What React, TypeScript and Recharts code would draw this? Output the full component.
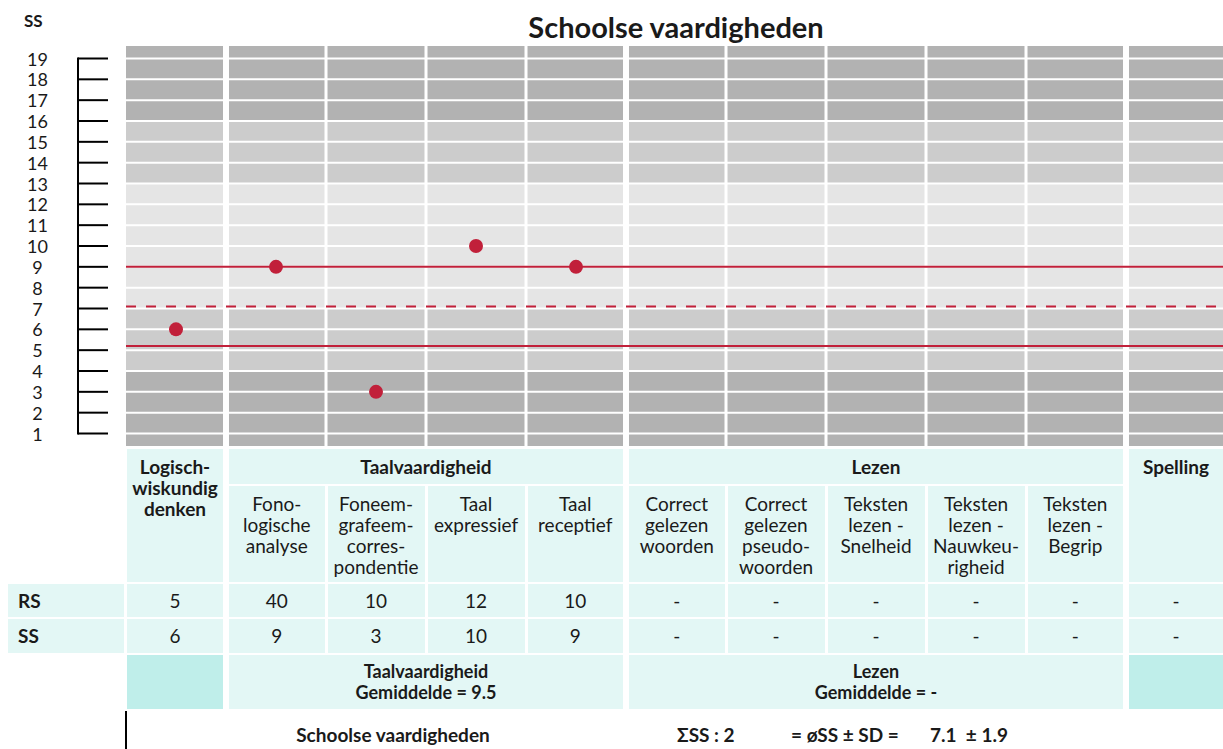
import { ComposedChart, Scatter, XAxis, YAxis, CartesianGrid, ReferenceLine } from 'recharts';

// ---- data ----
const TESTS = [
  'Logisch-wiskundig denken',
  'Fonologische analyse',
  'Foneem-grafeem-correspondentie',
  'Taal expressief',
  'Taal receptief',
  'Correct gelezen woorden',
  'Correct gelezen pseudowoorden',
  'Teksten lezen - Snelheid',
  'Teksten lezen - Nauwkeurigheid',
  'Teksten lezen - Begrip',
  'Spelling',
];

const SUB_LABELS: string[][] = [
  [],
  ['Fono-', 'logische', 'analyse'],
  ['Foneem-', 'grafeem-', 'corres-', 'pondentie'],
  ['Taal', 'expressief'],
  ['Taal', 'receptief'],
  ['Correct', 'gelezen', 'woorden'],
  ['Correct', 'gelezen', 'pseudo-', 'woorden'],
  ['Teksten', 'lezen -', 'Snelheid'],
  ['Teksten', 'lezen -', 'Nauwkeu-', 'righeid'],
  ['Teksten', 'lezen -', 'Begrip'],
  [],
];

const RS_SCORES: (number | null)[] = [5, 40, 10, 12, 10, null, null, null, null, null, null];
const SS_SCORES: (number | null)[] = [6, 9, 3, 10, 9, null, null, null, null, null, null];

const GROUPS = [
  { title: ['Logisch-', 'wiskundig', 'denken'], first: 0, last: 0, mean: null as string | null },
  { title: ['Taalvaardigheid'], first: 1, last: 4, mean: '9.5' },
  { title: ['Lezen'], first: 5, last: 9, mean: '-' },
  { title: ['Spelling'], first: 10, last: 10, mean: null as string | null },
];

const SS_TICKS = [1, 2, 3, 4, 5, 6, 7, 8, 9, 10, 11, 12, 13, 14, 15, 16, 17, 18, 19];
const SS_DOMAIN: [number, number] = [0.4, 19.6];

// norm zones on the SS scale
const NORM_ZONES = [
  { from: 0, to: 4, level: 2 },
  { from: 4, to: 7, level: 1 },
  { from: 7, to: 13, level: 0 },
  { from: 13, to: 16, level: 1 },
  { from: 16, to: 20, level: 2 },
];

const MEAN_SS = 7.1;
const SD_SS = 1.9;
const SS_COUNT = 2;

// ---- styles ----
const FONT = 'Lato, "Open Sans", sans-serif';
const TEXT = '#1a1a1a';
const RED = '#c1203a';
const ZONE_COLORS = ['#e5e5e5', '#cccccc', '#b2b2b2'];
const LIGHT_TEAL = '#e3f7f5';
const DARK_TEAL = '#bfeeea';

const PLOT_LEFT = 126;
const COL_W = 100;
const CHART_TOP = 46;
const PLOT_H = 400;
const UNIT_PX = PLOT_H / (SS_DOMAIN[1] - SS_DOMAIN[0]);

const chartData = TESTS.map((name, i) => ({ name, ss: SS_SCORES[i] }));

// one fill per stripe between grid lines, top to bottom
const stripeEdges = [SS_DOMAIN[1], ...[...SS_TICKS].reverse(), SS_DOMAIN[0]];
const STRIPE_FILLS = stripeEdges.slice(1).map((lo, i) => {
  const mid = (lo + stripeEdges[i]) / 2;
  const zone = NORM_ZONES.find((z) => mid >= z.from && mid < z.to);
  return ZONE_COLORS[zone ? zone.level : 0];
});

const isGroupStart = (i: number) => GROUPS.some((g) => g.first === i);
const isGroupEnd = (i: number) => GROUPS.some((g) => g.last === i);

function columnGaps({ offset }: any) {
  if (!offset) return [];
  const w = offset.width / TESTS.length;
  const pts: number[] = [];
  for (let i = 1; i < TESTS.length; i++) {
    const b = offset.left + i * w;
    if (isGroupStart(i)) pts.push(b - 1.5, b + 1.5);
    else pts.push(b);
  }
  return pts;
}

function SsTick({ y, payload }: any) {
  const v = payload.value;
  return (
    <g>
      <text x={37.5} y={y} textAnchor="middle" dominantBaseline="central" fontSize={18} fill={TEXT} fontFamily={FONT}>
        {v}
      </text>
      <line x1={78} x2={108} y1={y} y2={y} stroke="#000" strokeWidth={2} />
      {v > SS_TICKS[0] && <line x1={78} x2={78} y1={y - 1} y2={y + UNIT_PX + 1} stroke="#000" strokeWidth={2} />}
    </g>
  );
}

function ScoreDot({ cx, cy, payload }: any) {
  if (payload == null || payload.ss == null) return <g />;
  return <circle cx={cx} cy={cy} r={7} fill={RED} />;
}

function span(first: number, last: number) {
  const left = PLOT_LEFT + first * COL_W + (first === 0 ? 1 : isGroupStart(first) ? 3 : 1.5);
  const right = PLOT_LEFT + (last + 1) * COL_W - (isGroupEnd(last) ? 3 : 1.5);
  return { left, width: right - left };
}

interface BoxProps {
  left: number;
  width: number;
  top: number;
  bottom: number;
  bg?: string;
  bold?: boolean;
  top_aligned?: boolean;
  align?: 'center' | 'left';
  size?: number;
  children?: React.ReactNode;
}

function Box({ left, width, top, bottom, bg, bold, top_aligned, align = 'center', size = 19, children }: BoxProps) {
  return (
    <div
      style={{
        position: 'absolute',
        left,
        top,
        width,
        height: bottom - top,
        background: bg,
        boxSizing: 'border-box',
        display: 'flex',
        flexDirection: 'column',
        justifyContent: top_aligned ? 'flex-start' : 'center',
        paddingTop: top_aligned ? 7 : 0,
        paddingLeft: align === 'left' ? 10 : 0,
        textAlign: align,
        fontWeight: bold ? 700 : 400,
        fontSize: size,
        lineHeight: '21px',
        color: TEXT,
      }}
    >
      {children}
    </div>
  );
}

const ROWS = {
  h1: [449, 483.5],
  h2: [485.5, 582],
  rs: [583.5, 617],
  ss: [619, 652.5],
  avg: [654.5, 709],
};

export default function App() {
  return (
    <div
      style={{
        position: 'fixed',
        left: 0,
        top: 0,
        width: 1223,
        height: 749,
        overflow: 'hidden',
        background: '#fff',
        fontFamily: FONT,
        color: TEXT,
      }}
    >
      <div style={{ position: 'absolute', left: 24, top: 10, fontSize: 17, fontWeight: 700, lineHeight: '22px' }}>SS</div>
      <div
        style={{
          position: 'absolute',
          left: PLOT_LEFT,
          width: COL_W * TESTS.length,
          top: 10,
          textAlign: 'center',
          fontSize: 29,
          fontWeight: 700,
          lineHeight: '34px',
        }}
      >
        Schoolse vaardigheden
      </div>

      <div style={{ position: 'absolute', left: 0, top: CHART_TOP }}>
        <ComposedChart
          width={PLOT_LEFT + COL_W * TESTS.length}
          height={PLOT_H}
          data={chartData}
          margin={{ top: 0, right: 0, bottom: 0, left: 0 }}
        >
          <CartesianGrid vertical={false} horizontalFill={STRIPE_FILLS} stroke="none" syncWithTicks />
          <CartesianGrid vertical={false} stroke="#fff" strokeWidth={2} syncWithTicks />
          <CartesianGrid horizontal={false} stroke="#fff" strokeWidth={3} verticalCoordinatesGenerator={columnGaps} />
          <XAxis dataKey="name" type="category" scale="band" hide />
          <YAxis
            type="number"
            domain={SS_DOMAIN}
            ticks={SS_TICKS}
            interval={0}
            width={PLOT_LEFT}
            axisLine={false}
            tickLine={false}
            tick={<SsTick />}
            allowDataOverflow
          />
          <ReferenceLine y={MEAN_SS + SD_SS} stroke={RED} strokeWidth={2} />
          <ReferenceLine y={MEAN_SS} stroke={RED} strokeWidth={2} strokeDasharray="10 10" />
          <ReferenceLine y={MEAN_SS - SD_SS} stroke={RED} strokeWidth={2} />
          <Scatter dataKey="ss" fill={RED} shape={<ScoreDot />} isAnimationActive={false} />
        </ComposedChart>
      </div>

      {/* header cells */}
      {GROUPS.map((g) => {
        const s = span(g.first, g.last);
        if (g.first === g.last) {
          return (
            <Box key={g.title.join()} {...s} top={ROWS.h1[0]} bottom={ROWS.h2[1]} bg={LIGHT_TEAL} bold top_aligned>
              {g.title.map((t) => (
                <div key={t}>{t}</div>
              ))}
            </Box>
          );
        }
        return (
          <Box key={g.title.join()} {...s} top={ROWS.h1[0]} bottom={ROWS.h1[1]} bg={LIGHT_TEAL} bold>
            {g.title[0]}
          </Box>
        );
      })}
      {TESTS.map((t, i) =>
        SUB_LABELS[i].length ? (
          <Box key={t} {...span(i, i)} top={ROWS.h2[0]} bottom={ROWS.h2[1]} bg={LIGHT_TEAL} top_aligned>
            {SUB_LABELS[i].map((l) => (
              <div key={l}>{l}</div>
            ))}
          </Box>
        ) : null
      )}

      {/* score rows */}
      {[
        { label: 'RS', values: RS_SCORES, row: ROWS.rs },
        { label: 'SS', values: SS_SCORES, row: ROWS.ss },
      ].map((r) => (
        <div key={r.label}>
          <Box left={8} width={116} top={r.row[0]} bottom={r.row[1]} bg={LIGHT_TEAL} bold align="left">
            {r.label}
          </Box>
          {TESTS.map((t, i) => (
            <Box key={t} {...span(i, i)} top={r.row[0]} bottom={r.row[1]} bg={LIGHT_TEAL}>
              {r.values[i] ?? '-'}
            </Box>
          ))}
        </div>
      ))}

      {/* group means */}
      {GROUPS.map((g) => (
        <Box
          key={g.title.join()}
          {...span(g.first, g.last)}
          top={ROWS.avg[0]}
          bottom={ROWS.avg[1]}
          bg={g.mean == null ? DARK_TEAL : LIGHT_TEAL}
          bold
          size={18}
        >
          {g.mean != null && (
            <>
              <div>{g.title[0]}</div>
              <div>Gemiddelde = {g.mean}</div>
            </>
          )}
        </Box>
      ))}

      {/* footer */}
      <div style={{ position: 'absolute', left: 125, top: 711, width: 2, height: 40, background: '#000' }} />
      {[
        { text: 'Schoolse vaardigheden', x: 393, anchor: 'center' },
        { text: `\u03a3SS : ${SS_COUNT}`, x: 677, anchor: 'left' },
        { text: '= \u00f8SS \u00b1 SD =', x: 791, anchor: 'left' },
        { text: `${MEAN_SS.toFixed(1)}  \u00b1 ${SD_SS.toFixed(1)}`, x: 930, anchor: 'left' },
      ].map((f) => (
        <div
          key={f.text}
          style={{
            position: 'absolute',
            top: 724,
            left: f.anchor === 'center' ? f.x - 200 : f.x,
            width: f.anchor === 'center' ? 400 : undefined,
            textAlign: f.anchor === 'center' ? 'center' : 'left',
            fontSize: 19,
            fontWeight: 700,
            lineHeight: '22px',
            whiteSpace: 'pre',
          }}
        >
          {f.text}
        </div>
      ))}
    </div>
  );
}
